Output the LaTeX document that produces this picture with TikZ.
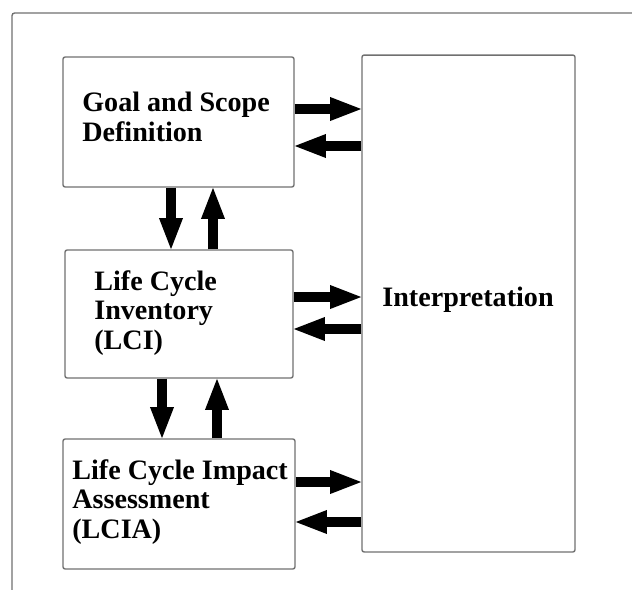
\documentclass[tikz,border=0pt]{standalone}
\usepackage{fontspec}
\setmainfont{Liberation Serif}
\usetikzlibrary{arrows.meta}
\definecolor{fgray}  {RGB}{112,112,112}
\tikzset{
    stage/.style={draw=fgray, line width=0.8pt, rounded corners=1.2pt, inner sep=0pt},
    stagetext/.style={inner sep=0pt, align=left, font=\fontsize{16pt}{17pt}\selectfont\bfseries},
    flow/.style={draw=black, line width=5.67pt, shorten >=-1.2pt, -{Triangle[length=19pt,width=12pt]}}
  }

\begin{document}
\begin{tikzpicture}[x=0.02cm, y=-0.02cm]
  \useasboundingbox (0,0) rectangle (632,589);
  %Outer frame
  \begin{scope}
    \clip (0,0) rectangle (632,589);
    \draw[draw=fgray, line width=0.8pt, rounded corners=1.5pt] (12,13) rectangle (700,700);
  \end{scope}
  %Stages
      \node[stage, minimum width=4.62cm, minimum height=2.6cm] (goal) at (178.5,122) {};
      \node[stage, minimum width=4.56cm, minimum height=2.56cm] (lci) at (179,314) {};
      \node[stage, minimum width=4.64cm, minimum height=2.6cm] (lcia) at (179,504) {};
      \node[stage, minimum width=4.26cm, minimum height=9.94cm] (interp) at (468.5,303.5) {};
  %Texts
      \node[stagetext, anchor=west] (goaltxt) at (82,117) {Goal and Scope\\Definition};
      \node[stagetext, anchor=west] (lcitxt) at (94,313) {Life Cycle\\Inventory\\(LCI)};
      \node[stagetext, anchor=west] (lciatxt) at (72,502) {Life Cycle Impact\\Assessment\\(LCIA)};
      \node[stagetext, anchor=base] (interptxt) at (468,306) {Interpretation};
  %Goal <-> Interpretation
      \draw[flow] ([yshift=0.26cm]goal.east) -- ([yshift=0.26cm]goal.east -| interp.west);
      \draw[flow] ([yshift=-0.48cm]goal.east -| interp.west) -- ([yshift=-0.48cm]goal.east);
  %LCI <-> Interpretation
      \draw[flow] ([yshift=0.34cm]lci.east) -- ([yshift=0.34cm]lci.east -| interp.west);
      \draw[flow] ([yshift=-0.30cm]lci.east -| interp.west) -- ([yshift=-0.30cm]lci.east);
  %LCIA <-> Interpretation
      \draw[flow] ([yshift=0.44cm]lcia.east) -- ([yshift=0.44cm]lcia.east -| interp.west);
      \draw[flow] ([yshift=-0.36cm]lcia.east -| interp.west) -- ([yshift=-0.36cm]lcia.east);
  %Goal <-> LCI
      \draw[flow] ([xshift=-0.15cm]goal.south) -- ([xshift=-0.15cm]goal.south |- lci.north);
      \draw[flow] ([xshift=0.69cm]goal.south |- lci.north) -- ([xshift=0.69cm]goal.south);
  %LCI <-> LCIA
      \draw[flow] ([xshift=-0.34cm]lci.south) -- ([xshift=-0.34cm]lci.south |- lcia.north);
      \draw[flow] ([xshift=0.76cm]lci.south |- lcia.north) -- ([xshift=0.76cm]lci.south);
\end{tikzpicture}
\end{document}
